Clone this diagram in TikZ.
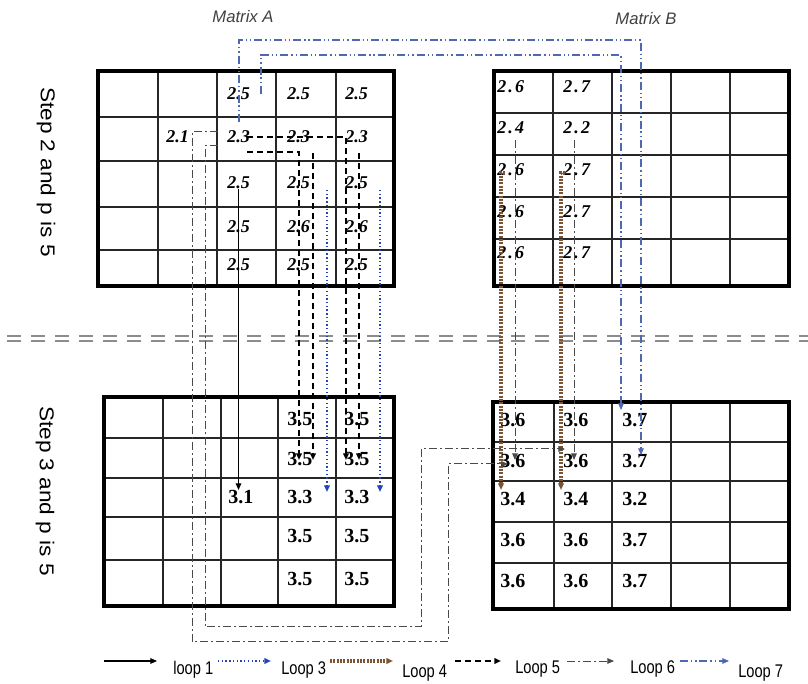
\documentclass[tikz,border=0pt]{standalone}
\usepackage{fontspec}
\setmainfont{Liberation Serif}
\newfontfamily\labelfont{Liberation Sans}
\newfontfamily\spacedfont{Liberation Serif}[LetterSpace=12]
\usepackage{graphicx}
\usepackage{xcolor}
\usepackage{tikz}
\usetikzlibrary{arrows.meta}
\definecolor{loopblue}{HTML}{2444B8}
\definecolor{loopsky}{HTML}{4F68B4}
\definecolor{loopbrown}{HTML}{7B5433}
\definecolor{loopgray}{HTML}{4A4A4A}
\definecolor{titlegray}{HTML}{404040}
\definecolor{rulegray}{HTML}{8C8C8C}

\tikzset{
  looptip/.style={-{Triangle[length=5pt,width=4.2pt]}},
  gridline/.style={line width=1pt,black!85},
  matframe/.style={line width=3.6pt},
  valA/.style={anchor=west,inner sep=0pt,font=\fontsize{13.5}{15}\selectfont\bfseries\itshape},
  valB/.style={anchor=west,inner sep=0pt,font=\spacedfont\fontsize{13.5}{15}\selectfont\bfseries\itshape},
  valC/.style={anchor=west,inner sep=0pt,font=\fontsize{15}{17}\selectfont\bfseries},
  mattitle/.style={inner sep=0pt,text=titlegray,font=\labelfont\itshape\fontsize{12.5}{14}\selectfont},
  steplabel/.style={inner sep=0pt,rotate=-90,font=\labelfont\fontsize{15}{17}\selectfont},
  keytext/.style={anchor=west,inner sep=0pt,font=\labelfont\fontsize{11}{12}\selectfont},
  loopone/.style={looptip,line width=0.9pt},
  loopthree/.style={looptip,loopblue,line width=1.4pt,dash pattern=on 1pt off 1.8pt},
  loopfour/.style={looptip,loopbrown,line width=2.6pt,dash pattern=on 1.5pt off 1pt},
  loopfive/.style={looptip,line width=1.5pt,dash pattern=on 4.5pt off 3pt},
  loopsix/.style={looptip,loopgray,line width=0.75pt,dash pattern=on 6pt off 2.5pt on 1pt off 2.5pt},
  loopseven/.style={looptip,loopsky,line width=0.8pt,dash pattern=on 6pt off 2.2pt on 1pt off 2.2pt on 1pt off 2.2pt}
}

\begin{document}
\begin{tikzpicture}[x=0.75pt,y=-0.75pt]
    \useasboundingbox (0,0) rectangle (808,684);

    \node[mattitle] (titleA) at (243,17) {Matrix A};
    \node[mattitle] (titleB) at (646,19) {Matrix B};
    \node[steplabel] (step2) at (46,172) {\scalebox{1.13}[1]{Step 2 and p is 5}};
    \node[steplabel] (step3) at (45,491) {\scalebox{1.13}[1]{Step 3 and p is 5}};

    % grids
    \foreach \x in {158,217,276,336} \draw[gridline] (\x,71) -- (\x,286);
    \foreach \y in {117,161,207,250} \draw[gridline] (98,\y) -- (394,\y);
    \draw[matframe] (98,71) rectangle (394,286);

    \foreach \x in {553,612,671,730} \draw[gridline] (\x,71) -- (\x,286);
    \foreach \y in {113,155,197,239} \draw[gridline] (494,\y) -- (789,\y);
    \draw[matframe] (494,71) rectangle (789,286);

    \foreach \x in {163,221,278,336} \draw[gridline] (\x,397) -- (\x,606);
    \foreach \y in {438,478,517,560} \draw[gridline] (104,\y) -- (394,\y);
    \draw[matframe] (104,397) rectangle (394,606);

    \foreach \x in {554,612,671,730} \draw[gridline] (\x,402) -- (\x,609);
    \foreach \y in {442,481,522,563} \draw[gridline] (493,\y) -- (789,\y);
    \draw[matframe] (493,402) rectangle (789,609);

    \draw[rulegray,line width=1.6pt,dash pattern=on 10.5pt off 7.5pt] (7,336) -- (808,336);
    \draw[rulegray,line width=1.6pt,dash pattern=on 10.5pt off 7.5pt] (7,341) -- (808,341);

    % values
    \foreach \n/\x/\y/\v in {a13/227/94/2.5,a14/287/94/2.5,a15/345/94/2.5,
        a22/166/137/2.1,a23/227/137/2.3,a24/287/137/2.3,a25/345/137/2.3,
        a33/227/183/2.5,a34/287/183/2.5,a35/345/183/2.5,
        a43/227/227/2.5,a44/287/227/2.6,a45/345/227/2.6,
        a53/227/265/2.5,a54/287/265/2.5,a55/345/265/2.5}
      \node[valA] (\n) at (\x,\y) {\v};
    \foreach \n/\x/\y/\v in {b11/497/87/2.6,b12/563/87/2.7,b21/497/128/2.4,b22/563/128/2.2,
        b31/497/170/2.6,b32/563/170/2.7,b41/497/212/2.6,b42/563/212/2.7,
        b51/497/253/2.6,b52/563/253/2.7}
      \node[valB] (\n) at (\x,\y) {\v};
    \foreach \n/\x/\y/\v in {c14/287/419/3.5,c15/344/419/3.5,c24/287/459/3.5,c25/344/459/3.5,
        c33/228/497/3.1,c34/287/497/3.3,c35/344/497/3.3,
        c44/287/536/3.5,c45/344/536/3.5,c54/287/579/3.5,c55/344/579/3.5}
      \node[valC] (\n) at (\x,\y) {\v};
    \foreach \n/\x/\y/\v in {d11/500/420/3.6,d12/563/420/3.6,d13/622/420/3.7,
        d21/500/461/3.6,d22/563/461/3.6,d23/622/461/3.7,
        d31/500/499/3.4,d32/563/499/3.4,d33/622/499/3.2,
        d41/500/540/3.6,d42/563/540/3.6,d43/622/540/3.7,
        d51/500/581/3.6,d52/563/581/3.6,d53/622/581/3.7}
      \node[valC] (\n) at (\x,\y) {\v};

    % loop ends
    \coordinate (s3a) at (327,190);  \coordinate (e3a) at (327,492);
    \coordinate (s3b) at (380,190);  \coordinate (e3b) at (380,492);
    \coordinate (s4a) at (505,173);  \coordinate (e4a) at (501,490);
    \coordinate (s4b) at (565,173);  \coordinate (e4b) at (561,490);
    \coordinate (s5a) at (247,137);  \coordinate (e5a) at (346,460);
    \coordinate (s5b) at (247,152);  \coordinate (e5b) at (299,460);
    \coordinate (s5c) at (313,153);  \coordinate (e5c) at (313,460);
    \coordinate (s5d) at (359,153);  \coordinate (e5d) at (359,460);
    \coordinate (s6a) at (218,132);  \coordinate (w6a) at (192,642);
    \coordinate (u6a) at (448,642);  \coordinate (e6a) at (508,464);
    \coordinate (s6b) at (218,146);  \coordinate (w6b) at (205,627);
    \coordinate (u6b) at (421,627);  \coordinate (e6b) at (565,449);
    \coordinate (s6c) at (515,140);  \coordinate (e6c) at (515,460);
    \coordinate (s6d) at (574,140);  \coordinate (e6d) at (574,460);
    \coordinate (s7a) at (239,122);  \coordinate (n7a) at (239,40);   \coordinate (e7a) at (641,455);
    \coordinate (s7b) at (261,94);   \coordinate (n7b) at (261,55);   \coordinate (e7b) at (621,410);

    \draw[loopone] (a33.south) -- (a33.south |- c33.north);
    \draw[loopthree] (s3a) -- (e3a);
    \draw[loopthree] (s3b) -- (e3b);
    \draw[loopfour] (s4a) -| (e4a);
    \draw[loopfour] (s4b) -| (e4b);
    \draw[loopfive] (s5a) -| (e5a);
    \draw[loopfive] (s5b) -| (e5b);
    \draw[loopfive] (s5c) -- (e5c);
    \draw[loopfive] (s5d) -- (e5d);
    \draw[loopsix] (s6a) -| (w6a) -- (u6a) |- (e6a);
    \draw[loopsix] (s6b) -| (w6b) -- (u6b) |- (e6b);
    \draw[loopsix] (s6c) -- (e6c);
    \draw[loopsix] (s6d) -- (e6d);
    \draw[loopseven] (s7a) -- (n7a) -| (e7a);
    \draw[loopseven] (s7b) -- (n7b) -| (e7b);

    % key
    \node[keytext] (k1) at (173,670) {\scalebox{1}[1.25]{loop 1}};
    \node[keytext] (k3) at (281,670) {\scalebox{1}[1.25]{Loop 3}};
    \node[keytext] (k4) at (402,673) {\scalebox{1}[1.25]{Loop 4}};
    \node[keytext] (k5) at (515,669) {\scalebox{1}[1.25]{Loop 5}};
    \node[keytext] (k6) at (630,669) {\scalebox{1}[1.25]{Loop 6}};
    \node[keytext] (k7) at (738,673) {\scalebox{1}[1.25]{Loop 7}};
    \draw[loopone] (104,661) -- (157,661);
    \draw[loopthree] (218,661) -- (271,661);
    \draw[loopfour] (330,661) -- (393,661);
    \draw[loopfive] (455,661) -- (501,661);
    \draw[loopsix] (567,661) -- (614,661);
    \draw[loopseven] (680,661) -- (729,661);
\end{tikzpicture}
\end{document}
